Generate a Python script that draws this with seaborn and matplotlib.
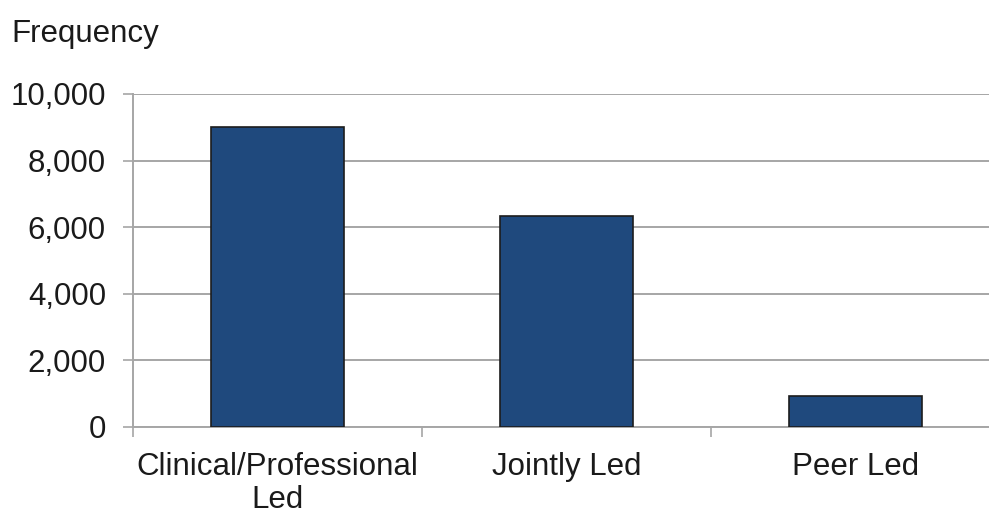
import numpy as np
import pandas as pd
import matplotlib
matplotlib.use("Agg")
import matplotlib.pyplot as plt
import seaborn as sns
from matplotlib.ticker import FuncFormatter, FixedLocator

categories = ["Clinical/Professional\nLed", "Jointly Led", "Peer Led"]
frequency = [9000, 6330, 930]
y_ticks = [0, 2000, 4000, 6000, 8000, 10000]

df = pd.DataFrame({"category": categories, "frequency": frequency})

sns.set_style("white")
plt.rcParams["font.family"] = ["Liberation Sans", "DejaVu Sans"]

fs = 22.5
fig = plt.figure(figsize=(9.89, 5.13), dpi=100)
ax = fig.add_axes([133 / 989, 86 / 513, 867 / 989, 333 / 513])

sns.barplot(data=df, x="category", y="frequency", color="#1F497D", saturation=1,
            width=0.46, edgecolor="#1c1c1c", linewidth=1.2, ax=ax, zorder=3)

ax.set_xlim(-0.5, 2.5)
ax.set_ylim(0, 10000)
ax.set_yticks(y_ticks)
ax.yaxis.set_major_formatter(FuncFormatter(lambda v, p: f"{int(v):,}"))
ax.grid(axis="y", color="#a6a6a6", linewidth=1.4, zorder=0)
ax.set_axisbelow(True)

# category boundaries get the tick marks, labels stay centred
ax.xaxis.set_minor_locator(FixedLocator([-0.5, 0.5, 1.5, 2.5]))
ax.tick_params(axis="x", which="major", length=0, pad=18, labelsize=fs, labelcolor="#1a1a1a")
ax.tick_params(axis="x", which="minor", length=7.5, width=1.2, color="#a6a6a6",
               direction="out", bottom=True)
ax.tick_params(axis="y", length=7.5, width=1.2, color="#a6a6a6", direction="out",
               labelsize=fs, labelcolor="#1a1a1a", pad=12, left=True)
for lbl in ax.get_xticklabels():
    lbl.set_linespacing(1.12)

for s in ["top", "right"]:
    ax.spines[s].set_visible(False)
for s in ["left", "bottom"]:
    ax.spines[s].set_color("#a6a6a6")
    ax.spines[s].set_linewidth(1.4)

ax.set_xlabel("")
ax.set_ylabel("")
fig.text(11 / 989, 1 - 34 / 513, "Frequency", fontsize=fs, color="#1a1a1a",
         ha="left", va="center")

fig.savefig("out.png", dpi=100)
